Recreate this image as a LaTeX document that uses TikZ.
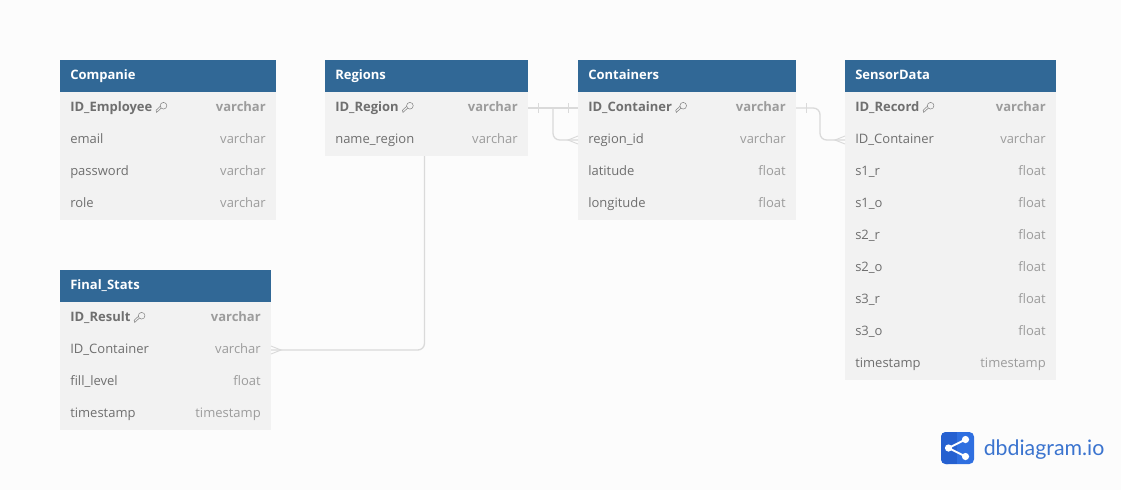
\documentclass[tikz,border=0pt]{standalone}
\usepackage{fontspec}
\setmainfont{Open Sans}
\newfontfamily\logofont{Lato}
\usetikzlibrary{calc}
\definecolor{hdr}{HTML}{316896}
\definecolor{rowbg}{HTML}{F2F2F2}
\definecolor{page}{HTML}{FCFCFC}
\definecolor{txt}{HTML}{6F6F6F}
\definecolor{typ}{HTML}{9C9C9C}
\definecolor{lnk}{HTML}{DADADA}
\definecolor{logoblue}{HTML}{2F6FE0}
\definecolor{logodark}{HTML}{2560D0}
\definecolor{logotext}{HTML}{3B74CF}
\tikzset{
  px/.style={x=0.75pt,y=-0.75pt},
  headbox/.style={anchor=north west,fill=hdr,minimum height=24pt,minimum width=#1*0.75pt,inner sep=0pt,outer sep=0pt},
  headtext/.style={anchor=base west,text=white,font=\fontsize{9.75}{12}\selectfont\bfseries,inner sep=0pt},
  rowbox/.style={anchor=north west,fill=rowbg,minimum height=24pt,minimum width=#1*0.75pt,inner sep=0pt,outer sep=0pt},
  fname/.style={anchor=base west,text=txt,font=\fontsize{9.75}{12}\selectfont,inner sep=0pt},
  pkname/.style={fname,font=\fontsize{9.75}{12}\selectfont\bfseries},
  ftype/.style={anchor=base east,text=typ,font=\fontsize{9.75}{12}\selectfont,inner sep=0pt},
  pktype/.style={ftype,font=\fontsize{9.75}{12}\selectfont\bfseries},
  link/.style={draw=lnk,line width=1pt,rounded corners=5pt},
  crow/.style={draw=lnk,line width=0.7pt},
  keyicon/.style={draw=txt!85,line width=0.4pt},
}
% \tbl{id}{x}{y}{width}{title}{pk name}{pk type}{list of name/type}
\newcommand{\tbl}[8]{%
  \node[headbox=#4] (#1-h) at (#2,#3) {};
  \node[headtext] (#1-ht) at ($(#1-h.west)+(7.5pt,-2.4pt)$) {#5};
  \node[rowbox=#4] (#1-1) at (#2,#3+32) {};
  \node[pkname] (#1-1-n) at ($(#1-1.west)+(7.5pt,-2.6pt)$) {#6};
  \node[pktype] (#1-1-t) at ($(#1-1.east)+(-7.5pt,-2.6pt)$) {#7};
  \begin{scope}[shift={($(#1-1-n.base east)+(6.8pt,2.9pt)$)},keyicon]
    \draw (1.4pt,1.4pt) circle (2.5pt);
    \draw (-0.3pt,-0.4pt) -- (-3.8pt,-3.6pt) -- (-4.2pt,-2pt) -- (-1pt,1pt);
  \end{scope}
  \foreach \na/\ty [count=\i from 2] in {#8} {
    \node[rowbox=#4] (#1-\i) at (#2,#3+32*\i) {};
    \node[fname] (#1-\i-n) at ($(#1-\i.west)+(7.5pt,-2.6pt)$) {\na};
    \node[ftype] (#1-\i-t) at ($(#1-\i.east)+(-7.5pt,-2.6pt)$) {\ty};
  }%
}
\begin{document}
\begin{tikzpicture}[px]
\useasboundingbox (0,0) rectangle (1121,490);
\fill[page] (0,0) rectangle (1121,490);

\tbl{comp}{60}{60}{216}{Companie}{ID\_Employee}{varchar}{email/varchar,password/varchar,role/varchar}
\tbl{stats}{60}{270}{211}{Final\_Stats}{ID\_Result}{varchar}{ID\_Container/varchar,fill\_level/float,timestamp/timestamp}
\tbl{reg}{325}{60}{203}{Regions}{ID\_Region}{varchar}{name\_region/varchar}
\tbl{cont}{578}{60}{218}{Containers}{ID\_Container}{varchar}{region\_id/varchar,latitude/float,longitude/float}
\tbl{sens}{845}{60}{211}{SensorData}{ID\_Record}{varchar}{ID\_Container/varchar,s1\_r/float,s1\_o/float,s2\_r/float,s2\_o/float,s3\_r/float,s3\_o/float,timestamp/timestamp}

% Regions -- Containers
\draw[link] (reg-1.east) -- (cont-1.west);
\draw[link] ([xshift=18.75pt]reg-1.east) |- (cont-2.west);
\draw[crow] ([xshift=7.5pt,yshift=-3.5pt]reg-1.east) -- ([xshift=7.5pt,yshift=3.5pt]reg-1.east);
\draw[crow] ([xshift=-7.5pt,yshift=-3.5pt]cont-1.west) -- ([xshift=-7.5pt,yshift=3.5pt]cont-1.west);
\draw[crow] (cont-2.west) ++(0,-3pt) -- ++(-7.5pt,3pt) -- ++(7.5pt,3pt);

% Containers -- SensorData
\draw[link] (cont-1.east) -- ([xshift=18pt]cont-1.east) |- (sens-2.west);
\draw[crow] ([xshift=7.5pt,yshift=-3.5pt]cont-1.east) -- ([xshift=7.5pt,yshift=3.5pt]cont-1.east);
\draw[crow] (sens-2.west) ++(0,-3pt) -- ++(-7.5pt,3pt) -- ++(7.5pt,3pt);

% Regions -- Final_Stats
\draw[link] ([xshift=-1.5pt]reg-2.south) |- (stats-2.east);
\draw[crow] (stats-2.east) ++(0,-3pt) -- ++(7.5pt,3pt) -- ++(-7.5pt,3pt);

% logo
\fill[logoblue,rounded corners=3.5pt] (941,432) rectangle (974,464);
\fill[logodark,rounded corners=3.5pt] (941,432) rectangle (953,464);
\fill[logodark] (949,432) rectangle (957,464);
\coordinate (lga) at (948.5,448);
\coordinate (lgb) at (965.5,439.5);
\coordinate (lgc) at (965.5,456.5);
\draw[white,line width=1.4pt] (lgb) -- (lga) -- (lgc);
\fill[white] (lga) circle (3.6) (lgb) circle (3.6) (lgc) circle (3.6);
\node[anchor=west,inner sep=0pt,text=logotext,font=\logofont\fontsize{16}{18}\selectfont] (lgt) at (983.5,449.5) {dbdiagram.io};
\end{tikzpicture}
\end{document}
